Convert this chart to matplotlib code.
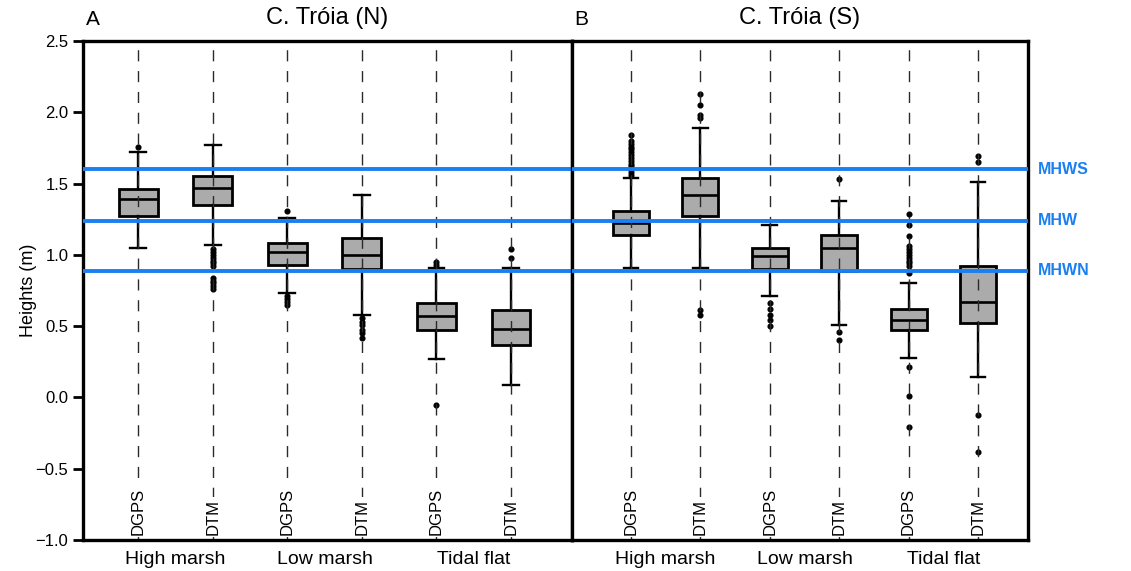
import matplotlib
matplotlib.use("Agg")
import matplotlib.pyplot as plt

plt.rcParams['font.family'] = ['Liberation Sans', 'DejaVu Sans']

methods = ["DGPS", "DTM", "DGPS", "DTM", "DGPS", "DTM"]
groups = ["High marsh", "Low marsh", "Tidal flat"]
titles = ["C. Tróia (N)", "C. Tróia (S)"]
letters = ["A", "B"]

# tidal levels (m)
levels = [1.60, 1.24, 0.89]
level_names = ["MHWS", "MHW", "MHWN"]

# C. Tróia (N)
n_med = [1.39, 1.47, 1.02, 1.00, 0.57, 0.48]
n_q1 = [1.27, 1.35, 0.93, 0.90, 0.47, 0.37]
n_q3 = [1.46, 1.55, 1.08, 1.12, 0.66, 0.61]
n_lo = [1.05, 1.07, 0.73, 0.58, 0.27, 0.09]
n_hi = [1.72, 1.77, 1.26, 1.42, 0.91, 0.91]
n_out = [[1.76],
         [1.04, 1.02, 1.00, 0.98, 0.96, 0.94, 0.92, 0.84, 0.82, 0.80, 0.78, 0.76],
         [1.31, 0.71, 0.69, 0.67, 0.65],
         [0.56, 0.53, 0.51, 0.47, 0.45, 0.42],
         [0.95, 0.93, -0.05],
         [1.04, 0.98]]

# C. Tróia (S)
s_med = [1.22, 1.42, 0.99, 1.05, 0.54, 0.67]
s_q1 = [1.14, 1.27, 0.90, 0.89, 0.47, 0.52]
s_q3 = [1.31, 1.54, 1.05, 1.14, 0.62, 0.92]
s_lo = [0.91, 0.91, 0.71, 0.51, 0.28, 0.14]
s_hi = [1.54, 1.89, 1.21, 1.38, 0.80, 1.51]
s_out = [[1.84, 1.80, 1.78, 1.76, 1.74, 1.72, 1.70, 1.68, 1.66, 1.64, 1.62, 1.60, 1.58, 1.56],
         [2.13, 2.05, 1.98, 1.96, 0.61, 0.58],
         [0.66, 0.62, 0.58, 0.54, 0.50],
         [1.53, 0.46, 0.40],
         [1.29, 1.21, 1.13, 1.06, 1.04, 1.02, 1.00, 0.98, 0.96, 0.94, 0.92, 0.89, 0.87, 0.21, 0.01, -0.21],
         [1.69, 1.65, -0.12, -0.38]]

panels = [(n_med, n_q1, n_q3, n_lo, n_hi, n_out),
          (s_med, s_q1, s_q3, s_lo, s_hi, s_out)]

fig = plt.figure(figsize=(11.31, 5.71), dpi=100)
ax1 = fig.add_axes([0.0734, 0.0543, 0.4324, 0.8739])
ax2 = fig.add_axes([0.5057, 0.0543, 0.4032, 0.8739])
axes = [ax1, ax2]
xlims = [(0.26, 6.82), (0.15, 6.72)]

blue = '#1a7ff0'
pos = list(range(1, 7))

for k, ax in enumerate(axes):
    med, q1, q3, lo, hi, out = panels[k]
    stats = []
    for i in range(6):
        stats.append(dict(med=med[i], q1=q1[i], q3=q3[i], whislo=lo[i],
                          whishi=hi[i], fliers=out[i]))
    ax.bxp(stats, positions=pos, widths=0.52, capwidths=0.21,
           patch_artist=True, showfliers=True,
           boxprops=dict(facecolor='#ababab', edgecolor='black', linewidth=2.0),
           medianprops=dict(color='black', linewidth=1.9),
           whiskerprops=dict(color='black', linewidth=1.7),
           capprops=dict(color='black', linewidth=1.7),
           flierprops=dict(marker='o', markerfacecolor='black',
                           markeredgecolor='black', markersize=3.4))
    for p in pos:
        ax.axvline(p, color='#2a2a2a', lw=1.0, ls=(0, (8, 7)), zorder=2.5)
    for lv in levels:
        ax.axhline(lv, color=blue, lw=2.8, zorder=5)
    for p, m in zip(pos, methods):
        ax.text(p, 0.01, m, rotation=90, ha='center', va='bottom', fontsize=12,
                transform=ax.get_xaxis_transform(), zorder=4,
                bbox=dict(facecolor='white', edgecolor='none', pad=1.5))
    for g, name in enumerate(groups):
        ax.text(pos[2 * g] + 0.5, -0.022, name, ha='center', va='top', fontsize=14,
                transform=ax.get_xaxis_transform())
    ax.set_xlim(*xlims[k])
    ax.set_ylim(-1.0, 2.5)
    ax.set_xticks([])
    for sp in ax.spines.values():
        sp.set_linewidth(2.4)
    ax.text(0.5, 1.025, titles[k], ha='center', va='bottom', fontsize=17,
            transform=ax.transAxes)
    ax.text(0.005, 1.025, letters[k], ha='left', va='bottom', fontsize=15,
            transform=ax.transAxes)

ax1.set_yticks([-1.0, -0.5, 0.0, 0.5, 1.0, 1.5, 2.0, 2.5])
ax1.tick_params(axis='y', direction='out', length=7, width=2, labelsize=12)
ax1.set_ylabel("Heights (m)", fontsize=13, labelpad=-1)
ax2.set_yticks([])

for lv, nm in zip(levels, level_names):
    ax2.text(1.022, lv, nm, color=blue, fontweight='bold', fontsize=11.5,
             ha='left', va='center', transform=ax2.get_yaxis_transform())

fig.savefig("out.png", dpi=100)
